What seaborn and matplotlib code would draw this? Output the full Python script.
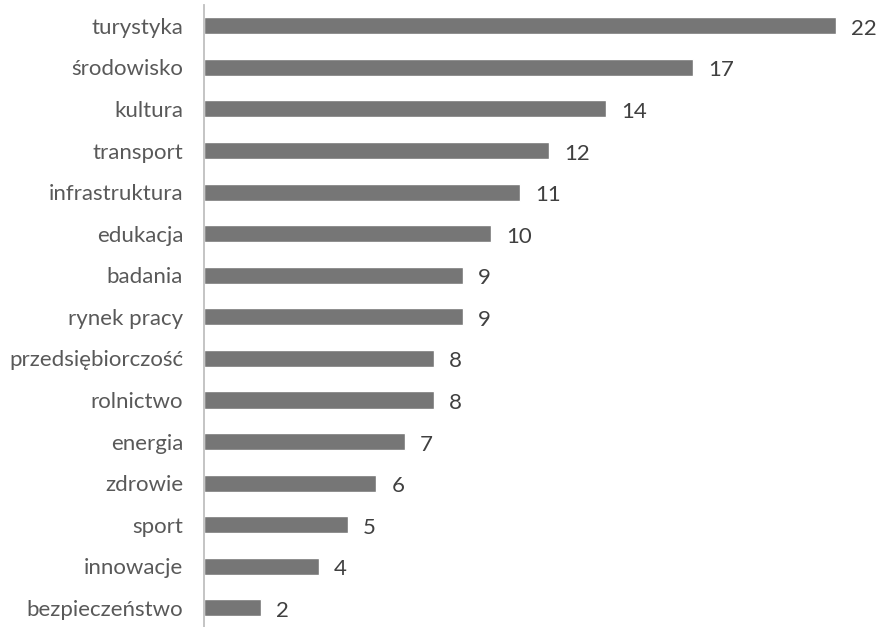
import matplotlib
matplotlib.use("Agg")
import matplotlib.pyplot as plt
import seaborn as sns
import pandas as pd

categories = ["turystyka", "środowisko", "kultura", "transport", "infrastruktura",
              "edukacja", "badania", "rynek pracy", "przedsiębiorczość", "rolnictwo",
              "energia", "zdrowie", "sport", "innowacje", "bezpieczeństwo"]
values = [22, 17, 14, 12, 11, 10, 9, 9, 8, 8, 7, 6, 5, 4, 2]

sns.set_style("white")
plt.rcParams['font.family'] = ['Lato', 'DejaVu Sans']

df = pd.DataFrame({"cat": categories, "val": values})

fig = plt.figure(figsize=(8.78, 6.27), dpi=100)
ax = fig.add_axes([204/878, 0, (878-204)/878, (627-5)/627])
sns.barplot(data=df, x="val", y="cat", orient="h", color="#767676",
            saturation=1, width=0.41, ax=ax)
ax.set_xlim(0, 674/28.75)
ax.set_ylim(14.46, -0.5)
ax.set_xlabel("")
ax.set_ylabel("")
ax.set_xticks([])
for s in ["top", "right", "bottom"]:
    ax.spines[s].set_visible(False)
ax.spines["left"].set_color("#bfbfbf")
ax.spines["left"].set_linewidth(1.3)
ax.tick_params(axis="y", length=0, pad=15, labelsize=16, labelcolor="#595959")
for i, v in enumerate(values):
    ax.annotate(str(v), (v, i), xytext=(15, -3), textcoords="offset pixels",
                va="center", ha="left", fontsize=16, color="#404040")
fig.savefig("out.png", dpi=100)
